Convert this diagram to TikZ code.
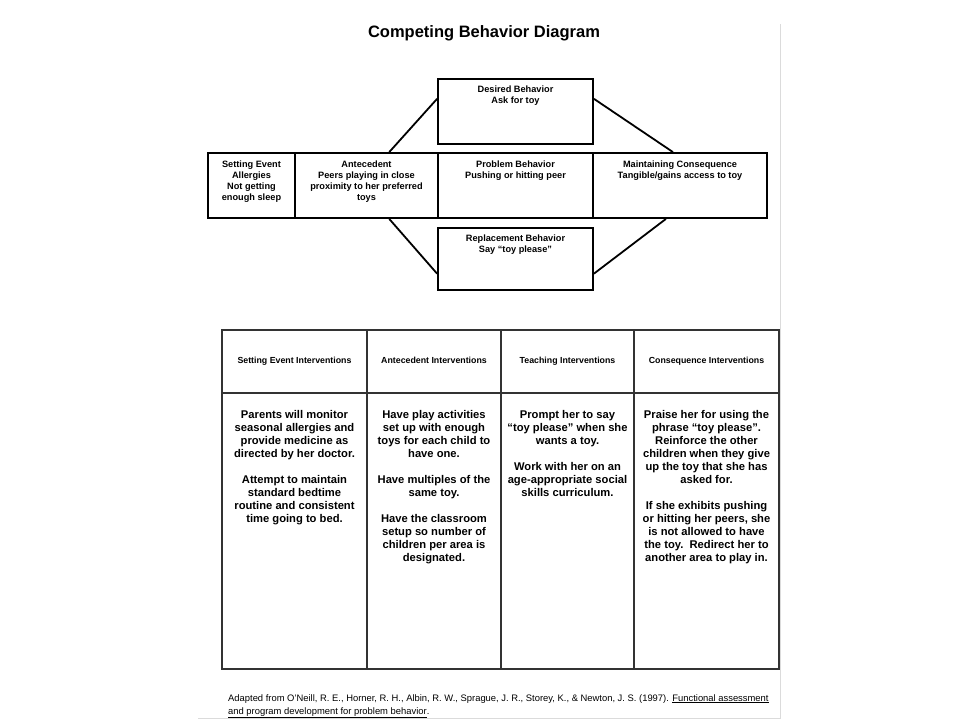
\documentclass[tikz,border=0pt]{standalone}
\usepackage{fontspec}
\setmainfont{Liberation Sans}
\usetikzlibrary{calc}
\begin{document}
\begin{tikzpicture}[x=1pt,y=-1pt,
  box/.style={draw=black,line width=1.8pt,inner sep=0pt},
  btxt/.style={inner sep=0pt,align=center,font=\fontsize{9.2}{11}\selectfont\bfseries,anchor=north},
  conn/.style={line width=1.8pt,draw=black},
  cell/.style={draw=black!80,line width=1.3pt,inner sep=0pt},
  htxt/.style={font=\fontsize{8.8}{11}\selectfont\bfseries,text height=6.5pt,text depth=1.8pt},
  bodytxt/.style={inner sep=0pt,align=center,font=\fontsize{11.2}{13}\selectfont\bfseries,anchor=north},
  pageedge/.style={draw=black!14,line width=1pt}]
\useasboundingbox (0,0) rectangle (960,720);
\fill[white] (0,0) rectangle (960,720);
% page edge
\draw[pageedge] (780,24) -- (780,718) -- (198,718);
% title
\node[font=\fontsize{16.5}{20}\selectfont\bfseries,inner sep=0pt] (title) at (484,33) {Competing Behavior Diagram};
% diagram boxes
\node[box,minimum width=87pt,minimum height=65pt] (setting) at (251.5,185.5) {};
\node[box,minimum width=143pt,minimum height=65pt] (antecedent) at (366.5,185.5) {};
\node[box,minimum width=155pt,minimum height=65pt] (problem) at (515.5,185.5) {};
\node[box,minimum width=174pt,minimum height=65pt] (maintain) at (680,185.5) {};
\node[box,minimum width=155pt,minimum height=65pt] (desired) at (515.5,111.5) {};
\node[box,minimum width=155pt,minimum height=62pt] (replace) at (515.5,259) {};
% box texts
\node[btxt] (settingT) at ($(setting.north)+(0,9)$) {Setting Event\\Allergies\\Not getting\\enough sleep};
\node[btxt] (antecedentT) at ($(antecedent.north)+(0,9)$) {Antecedent\\Peers playing in close\\proximity to her preferred\\toys};
\node[btxt] (problemT) at ($(problem.north)+(0,9)$) {Problem Behavior\\Pushing or hitting peer};
\node[btxt] (maintainT) at ($(maintain.north)+(0,9)$) {Maintaining Consequence\\Tangible/gains access to toy};
\node[btxt] (desiredT) at ($(desired.north)+(0,8)$) {Desired Behavior\\Ask for toy};
\node[btxt] (replaceT) at ($(replace.north)+(0,8)$) {Replacement Behavior\\Say “toy please”};
% connectors
\draw[conn] ($(antecedent.north west)!0.657!(antecedent.north east)$) -- ($(desired.north west)!0.31!(desired.south west)$);
\draw[conn] ($(desired.north east)!0.31!(desired.south east)$) -- ($(maintain.north west)!0.46!(maintain.north east)$);
\draw[conn] ($(antecedent.south west)!0.657!(antecedent.south east)$) -- ($(replace.north west)!0.73!(replace.south west)$);
\draw[conn] ($(replace.north east)!0.73!(replace.south east)$) -- ($(maintain.south west)!0.42!(maintain.south east)$);
% table header
\node[cell,htxt,minimum width=145pt,minimum height=63pt] (h1) at (294.5,361.5) {Setting Event Interventions};
\node[cell,htxt,minimum width=134pt,minimum height=63pt] (h2) at (434,361.5) {Antecedent Interventions};
\node[cell,htxt,minimum width=133pt,minimum height=63pt] (h3) at (567.5,361.5) {Teaching Interventions};
\node[cell,htxt,minimum width=145pt,minimum height=63pt] (h4) at (706.5,361.5) {Consequence Interventions};
% table body
\node[cell,minimum width=145pt,minimum height=276pt] (b1) at (294.5,531) {};
\node[cell,minimum width=134pt,minimum height=276pt] (b2) at (434,531) {};
\node[cell,minimum width=133pt,minimum height=276pt] (b3) at (567.5,531) {};
\node[cell,minimum width=145pt,minimum height=276pt] (b4) at (706.5,531) {};
\node[bodytxt] (t1) at ($(b1.north)+(0,18)$) {Parents will monitor\\seasonal allergies and\\provide medicine as\\directed by her doctor.\\[13pt]Attempt to maintain\\standard bedtime\\routine and consistent\\time going to bed.};
\node[bodytxt] (t2) at ($(b2.north)+(0,18)$) {Have play activities\\set up with enough\\toys for each child to\\have one.\\[13pt]Have multiples of the\\same toy.\\[13pt]Have the classroom\\setup so number of\\children per area is\\designated.};
\node[bodytxt] (t3) at ($(b3.north)+(0,18)$) {Prompt her to say\\“toy please” when she\\wants a toy.\\[13pt]Work with her on an\\age-appropriate social\\skills curriculum.};
\node[bodytxt] (t4) at ($(b4.north)+(0,18)$) {Praise her for using the\\phrase “toy please”.\\Reinforce the other\\children when they give\\up the toy that she has\\asked for.\\[13pt]If she exhibits pushing\\or hitting her peers, she\\is not allowed to have\\the toy.\ \ Redirect her to\\another area to play in.};
% citation
\node[inner sep=0pt,anchor=north west,align=left,font=\fontsize{9.4}{13}\selectfont] (cite) at (228,694) {Adapted from O’Neill, R. E., Horner, R. H., Albin, R. W., Sprague, J. R., Storey, K., \& Newton, J. S. (1997). \underline{Functional assessment}\\\underline{and program development for problem behavior}.};
\end{tikzpicture}
\end{document}
